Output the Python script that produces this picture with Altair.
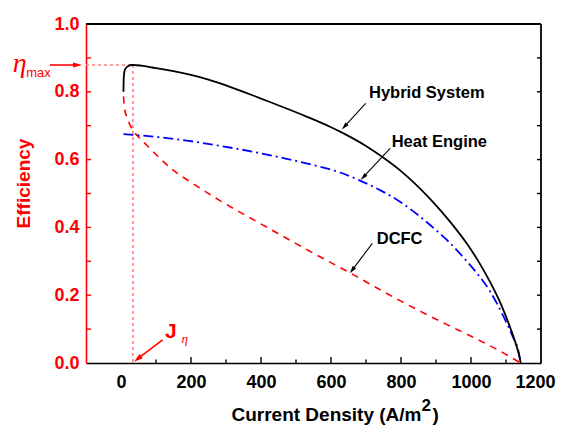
import math
import altair as alt
import pandas as pd

# ---------------- data ----------------
hybrid_x = [7, 7.5, 8.5, 10.5, 14, 21, 30, 35, 100, 150, 200, 250, 300, 350, 400, 460, 530, 597, 626, 700, 749, 800, 883, 940, 991, 1020, 1054, 1080, 1097, 1115, 1130, 1138, 1142]
hybrid_y = [0.800, 0.830, 0.850, 0.863, 0.870, 0.876, 0.879, 0.879, 0.870, 0.861, 0.850, 0.836, 0.819, 0.800, 0.780, 0.756, 0.727, 0.697, 0.6825, 0.640, 0.606, 0.566, 0.484, 0.417, 0.348, 0.302, 0.240, 0.186, 0.145, 0.096, 0.050, 0.021, 0.000]

heat_x = [7, 100, 188, 280, 378, 470, 569, 626, 683, 740, 797, 854, 900, 940, 978, 1020, 1054, 1092, 1120, 1135, 1142]
heat_y = [0.675, 0.667, 0.656, 0.641, 0.623, 0.603, 0.579, 0.562, 0.538, 0.510, 0.476, 0.432, 0.392, 0.354, 0.312, 0.261, 0.212, 0.139, 0.076, 0.037, 0.000]

dcfc_x = [7, 10, 16, 25, 33, 50, 69, 111, 149, 200, 283, 388, 473, 560, 654, 730, 797, 860, 930, 1000, 1092, 1142]
dcfc_y = [0.786, 0.752, 0.727, 0.704, 0.688, 0.667, 0.647, 0.604, 0.569, 0.533, 0.479, 0.417, 0.368, 0.318, 0.266, 0.222, 0.184, 0.150, 0.114, 0.079, 0.030, 0.000]

x_tick_values = [0, 200, 400, 600, 800, 1000, 1200]
x_minor_values = [100, 300, 500, 700, 900, 1100]
y_tick_values = [0.0, 0.2, 0.4, 0.6, 0.8, 1.0]
y_all_ticks = [0.1, 0.2, 0.3, 0.4, 0.5, 0.6, 0.7, 0.8, 0.9]

eta_max_value = 0.879
j_eta_value = 34

curve_labels = ["Hybrid System", "Heat Engine", "DCFC"]
curve_label_x = [708.6, 773.4, 730.6]
curve_label_y = [0.7805, 0.636, 0.3504]
curve_arrow_x1 = [699, 769, 718]
curve_arrow_y1 = [0.766, 0.633, 0.353]
curve_arrow_x2 = [631, 685, 654]
curve_arrow_y2 = [0.689, 0.540, 0.265]

# ---------------- layout ----------------
W, H = 455, 339
X_DOM = [-100, 1200]
Y_DOM = [0.0, 1.0]
PXX = W / (X_DOM[1] - X_DOM[0])
PXY = H / (Y_DOM[1] - Y_DOM[0])
RED = "#FF0000"
BLUE = "#0000FF"
PINK = "#FF8080"
SANS = "Liberation Sans"
SERIF = "Liberation Serif"

xs = alt.Scale(domain=X_DOM, nice=False, zero=False)
ys = alt.Scale(domain=Y_DOM, nice=False, zero=False)

xaxis = alt.Axis(values=x_tick_values, format="d", ticks=False, grid=False, title=None,
                 domainColor="black", domainWidth=1.6, labelColor="black",
                 labelFont=SANS, labelFontWeight="bold", labelFontSize=18,
                 labelPadding=10, labelFlush=1, labelFlushOffset=14, labelOverlap=False)
yaxis = alt.Axis(values=y_tick_values, format=".1f", ticks=False, grid=False,
                 title="Efficiency", titleColor=RED, titleFont=SANS, titleFontSize=19,
                 titleFontWeight="bold", titleAngle=270, titleX=-63, titleY=159,
                 titleAlign="center", titleBaseline="middle",
                 domainColor=RED, domainWidth=1.6, labelColor=RED,
                 labelFont=SANS, labelFontWeight="bold", labelFontSize=18,
                 labelPadding=7, labelOverlap=False)


def X(f):
    return alt.X(f, type="quantitative", scale=xs, axis=xaxis)


def Y(f):
    return alt.Y(f, type="quantitative", scale=ys, axis=yaxis)


layers = []

# dotted guide lines
guides = pd.DataFrame({
    "x": [X_DOM[0], j_eta_value], "x2": [j_eta_value, j_eta_value],
    "y": [eta_max_value, eta_max_value], "y2": [eta_max_value, 0.0]})
layers.append(alt.Chart(guides).mark_rule(color=PINK, strokeDash=[3, 3], strokeWidth=1.6)
              .encode(x=X("x"), x2="x2", y=Y("y"), y2="y2"))


# curves
def curve(xv, yv, color, dash, width):
    df = pd.DataFrame({"x": xv, "y": yv})
    kw = dict(color=color, strokeWidth=width, interpolate="monotone")
    if dash:
        kw["strokeDash"] = dash
    return alt.Chart(df).mark_line(**kw).encode(x=X("x"), y=Y("y"), order="x:Q")


layers.append(curve(dcfc_x, dcfc_y, RED, [7, 6], 1.6))
layers.append(curve(heat_x, heat_y, BLUE, [10, 4, 2, 4], 1.8))
layers.append(curve(hybrid_x, hybrid_y, "black", None, 1.8))

# inward ticks
bt = [(v, (6 if v in x_tick_values else 3.5) / PXY) for v in x_tick_values[1:-1] + x_minor_values]
btdf = pd.DataFrame(bt, columns=["x", "y2"])
btdf["y"] = 0.0
layers.append(alt.Chart(btdf).mark_rule(color="black", strokeWidth=1.4)
              .encode(x=X("x"), y=Y("y"), y2="y2"))
ltdf = pd.DataFrame({"x": [X_DOM[0]] * len(y_all_ticks),
                     "x2": [X_DOM[0] + 5 / PXX] * len(y_all_ticks),
                     "y": y_all_ticks})
layers.append(alt.Chart(ltdf).mark_rule(color=RED, strokeWidth=1.4)
              .encode(x=X("x"), x2="x2", y=Y("y")))
rtdf = pd.DataFrame({"x": [X_DOM[1]] * len(y_all_ticks),
                     "x2": [X_DOM[1] - 4 / PXX] * len(y_all_ticks),
                     "y": y_all_ticks})
layers.append(alt.Chart(rtdf).mark_rule(color="black", strokeWidth=1.4)
              .encode(x=X("x"), x2="x2", y=Y("y")))

# top and right frame
frame = pd.DataFrame({"x": [X_DOM[0], X_DOM[1]], "x2": [X_DOM[1], X_DOM[1]],
                      "y": [Y_DOM[1], Y_DOM[0]], "y2": [Y_DOM[1], Y_DOM[1]]})
layers.append(alt.Chart(frame).mark_rule(color="black", strokeWidth=1.8)
              .encode(x=X("x"), x2="x2", y=Y("y"), y2="y2"))

# arrows
HEAD = "M0,-1L0.45,0.6L-0.45,0.6Z"


def arrow(x1, y1, x2, y2, color, size, width):
    dxp = (x2 - x1) * PXX
    dyp = -(y2 - y1) * PXY
    L = math.hypot(dxp, dyp)
    ux, uy = dxp / L, dyp / L
    ang = math.degrees(math.atan2(ux, -uy)) % 360
    back = math.sqrt(size) / 2
    cx = x2 - ux * back / PXX
    cy = y2 + uy * back / PXY
    line = pd.DataFrame({"x": [x1], "y": [y1], "x2": [cx], "y2": [cy]})
    head = pd.DataFrame({"x": [cx], "y": [cy], "ang": [ang]})
    return [
        alt.Chart(line).mark_rule(color=color, strokeWidth=width)
        .encode(x=X("x"), x2="x2", y=Y("y"), y2="y2"),
        alt.Chart(head).mark_point(shape=HEAD, filled=True, opacity=1, color=color, size=size, strokeWidth=0)
        .encode(x=X("x"), y=Y("y"), angle=alt.Angle("ang:Q", scale=None)),
    ]


for i in range(len(curve_labels)):
    layers += arrow(curve_arrow_x1[i], curve_arrow_y1[i], curve_arrow_x2[i], curve_arrow_y2[i],
                    "black", 90, 1.1)

# eta_max arrow and J_eta arrow
layers += arrow(-203, eta_max_value, -111, eta_max_value, RED, 130, 1.6)
layers += arrow(119, 0.068, 37, 0.004, RED, 130, 1.6)

# curve labels
lab = pd.DataFrame({"x": curve_label_x, "y": curve_label_y, "t": curve_labels})
layers.append(alt.Chart(lab).mark_text(font=SANS, fontWeight="bold", fontSize=16.5, color="black",
                                       align="left", baseline="alphabetic")
              .encode(x=X("x"), y=Y("y"), text="t:N"))


def txt(x, y, t, **kw):
    df = pd.DataFrame({"x": [x], "y": [y], "t": [t]})
    return alt.Chart(df).mark_text(baseline="alphabetic", **kw).encode(x=X("x"), y=Y("y"), text="t:N")


layers.append(txt(-309, 0.858, "η", font=SERIF, fontStyle="italic", fontSize=28, color=RED, align="left"))
layers.append(txt(-271, 0.844, "max", font=SANS, fontSize=13, color=RED, align="left"))
layers.append(txt(125.7, 0.074, "J", font=SANS, fontWeight="bold", fontSize=21, color=RED, align="left"))
layers.append(txt(173, 0.058, "η", font=SERIF, fontStyle="italic", fontSize=13, color=RED, align="left"))

# x axis title (with raised exponent)
layers.append(txt(858.6, -0.171, "Current Density (A/m", font=SANS, fontWeight="bold", fontSize=19,
                  color="black", align="right"))
layers.append(txt(858.6, -0.1416, "2", font=SANS, fontWeight="bold", fontSize=17, color="black", align="left"))
layers.append(txt(890, -0.171, ")", font=SANS, fontWeight="bold", fontSize=19, color="black", align="left"))

chart = alt.layer(*layers).properties(
    width=W, height=H,
    padding={"left": 78, "top": 16, "right": 15, "bottom": 62},
    autosize=alt.AutoSizeParams(type="none"),
    background="white",
).configure_view(stroke=None)

chart.save("out.html", embed_options={"renderer": "svg", "actions": False})
